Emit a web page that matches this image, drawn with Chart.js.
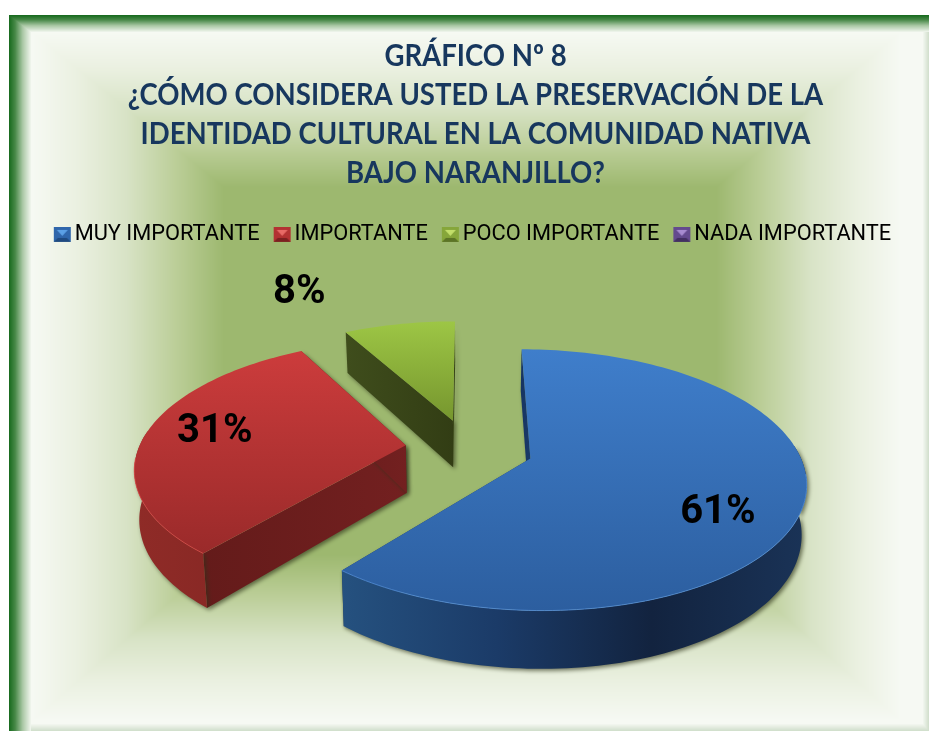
<!DOCTYPE html>
<html><head><meta charset="utf-8">
<style>html,body{margin:0;padding:0;background:#fff}#w{width:929px;height:731px;position:relative}</style>
<script src="https://cdn.jsdelivr.net/npm/chart.js@4"></script>
</head><body><div id="w"><canvas id="c" width="929" height="731"></canvas></div>
<script>
const titleLines = ['GRÁFICO Nº 8','¿CÓMO CONSIDERA USTED LA PRESERVACIÓN DE LA','IDENTIDAD CULTURAL EN LA COMUNIDAD NATIVA','BAJO NARANJILLO?'];
const categories = ['MUY IMPORTANTE','IMPORTANTE','POCO IMPORTANTE','NADA IMPORTANTE'];
const percentValues = [61,31,8,0];

const sliceStyles = [
 {top:['#3f7ecb','#2c5e9f'],rim:['#25517f','#1b3b68','#12233f','#1a3357'],cut:['#173562','#1a3a6a'],edge:'rgba(85,146,220,0.75)',box:['#2f66ab','#5ba0e6','#1f4a80']},
 {top:['#cc3c3c','#9a2a2a'],rim:['#8f2b27','#7a2220'],cut:['#641b1a','#732020'],edge:'rgba(217,74,72,0.75)',box:['#b33232','#e86a66','#7c2020']},
 {top:['#9dc645','#76962e'],rim:['#4a5a20','#3f4d1c'],cut:['#3f4d1c','#323d14'],edge:'rgba(168,204,85,0.75)',box:['#86a63a','#c2de6a','#5c7426']},
 {top:['#7b5ba8','#5f4486'],rim:['#4a3568','#3c2a55'],cut:['#3c2a55','#3c2a55'],edge:'#8d6cba',box:['#644a8e','#a78bd0','#432f62']}
];
const labelFont = 'bold 40px Roboto';
// ground-plane perspective of the pie
const P = {cx:468,cy:448,R:267,S:123.7,k:0.1625,D:48,shrink:0.985};
const explodeBy = [0.245,0.235,0.235,0.235];
const labelDelta = [[0.632,0.40],[-0.735,-0.11],[-0.735,-1.345],null];
const titleSqueeze = 0.918, titleCentre = 475.5;

function proj(u,v,low){
  const w=1-P.k*v;
  let X=P.R*u/w, Y=P.S*v/w;
  if(low){X*=P.shrink;Y+=P.D/w;}
  return [P.cx+X,P.cy+Y];
}
function lerpStops(stops,t){
  for(let i=1;i<stops.length;i++){ if(t<=stops[i][0]){const a=stops[i-1],b=stops[i],f=(t-a[0])/(b[0]-a[0]);
    return [a[1]+(b[1]-a[1])*f,a[2]+(b[2]-a[2])*f,a[3]+(b[3]-a[3])*f];}}
  const l=stops[stops.length-1];return [l[1],l[2],l[3]];
}
let bgCanvas=null;
function paintBackground(){
  const c=document.createElement('canvas');c.width=929;c.height=731;const x=c.getContext('2d');
  const im=x.createImageData(929,731),d=im.data;
  const main=[[0,157,184,111],[0.08,157,184,111],[0.3,186,205,150],[0.55,216,227,198],[0.78,234,240,224],[1,246,249,243]];
  const band=[[0,26,108,32],[0.25,70,135,70],[0.6,170,200,165],[1,246,249,243]];
  for(let py=0;py<731;py++)for(let px=0;px<929;px++){
    const i=(py*929+px)*4;
    if(px<9||py<15){d[i]=d[i+1]=d[i+2]=255;d[i+3]=255;continue;}
    const t=Math.min(1,Math.max(0,(240-px)/208,(200-py)/168,(px-700)/200,(py-540)/180));
    let col=lerpStops(main,t);
    const b=Math.min((px-9)/22,(py-15)/17);
    if(b<1)col=lerpStops(band,Math.max(0,b));
    const pale=Math.min((929-px)/7,(731-py)/8);
    if(pale<1&&b>=1){const f=1-Math.max(0,pale);col=[col[0]+(205-col[0])*f,col[1]+(220-col[1])*f,col[2]+(200-col[2])*f];}
    d[i]=col[0];d[i+1]=col[1];d[i+2]=col[2];d[i+3]=255;
  }
  x.putImageData(im,0,0);return c;
}
function grad(ctx,x0,y0,x1,y1,cols){
  const g=ctx.createLinearGradient(x0,y0,x1,y1);
  cols.forEach((c,i)=>g.addColorStop(cols.length>1?i/(cols.length-1):0,c));return g;
}
function poly(ctx,pts,fill){ctx.beginPath();pts.forEach((p,i)=>i?ctx.lineTo(p[0],p[1]):ctx.moveTo(p[0],p[1]));ctx.closePath();ctx.fillStyle=fill;ctx.fill();}

function drawSlice(ctx,el,st,e){
  const a0=el.startAngle,a1=el.endAngle;
  if(a1-a0<1e-4)return;
  const mid=(a0+a1)/2,u0=e*Math.cos(mid),v0=e*Math.sin(mid);
  const n=Math.max(4,Math.ceil((a1-a0)/0.025));
  const top=[],low=[],vis=[];
  for(let i=0;i<=n;i++){
    const a=a0+(a1-a0)*i/n,u=u0+Math.cos(a),v=v0+Math.sin(a);
    top.push(proj(u,v,false));low.push(proj(u,v,true));
    if(Math.sin(a)>-0.12)vis.push(i);
  }
  const tipT=proj(u0,v0,false),tipL=proj(u0,v0,true);
  const xs=top.concat(low,[tipT,tipL]).map(p=>p[0]),ys=top.concat([tipT]).map(p=>p[1]);
  const minX=Math.min(...xs),maxX=Math.max(...xs),minY=Math.min(...ys),maxY=Math.max(...ys);
  ctx.save();
  ctx.shadowColor='rgba(45,50,25,0.65)';ctx.shadowBlur=4;ctx.shadowOffsetX=2;ctx.shadowOffsetY=2;
  const c1=[tipT,top[0],low[0],tipL],c2=[tipT,top[n],low[n],tipL];
  poly(ctx,c1,grad(ctx,Math.min(tipT[0],top[0][0]),0,Math.max(tipT[0],top[0][0])+1,0,st.cut));
  poly(ctx,c2,grad(ctx,Math.min(tipT[0],top[n][0]),0,Math.max(tipT[0],top[n][0])+1,0,st.cut));
  if(vis.length>1){
    const tv=vis.map(i=>top[i]),lv=vis.map(i=>low[i]).reverse();
    poly(ctx,tv.concat(lv),grad(ctx,minX,0,maxX,0,st.rim));
  }
  ctx.restore();
  poly(ctx,[tipT].concat(top),grad(ctx,0,minY,0,maxY,st.top));
  ctx.save();ctx.beginPath();let on=false;
  for(let i=0;i<=n;i++){const a=a0+(a1-a0)*i/n;if(Math.sin(a)>0.1){on?ctx.lineTo(top[i][0],top[i][1]):ctx.moveTo(top[i][0],top[i][1]);on=true;}else on=false;}
  ctx.strokeStyle=st.edge;ctx.lineWidth=1;ctx.stroke();ctx.restore();
}
const pie3d={id:'pie3d',
  afterLayout(chart){
    chart.legend.left-=2;chart.legend.right-=2;
    const tb=chart.titleBlock;
    if(!tb._squeezed){
      const orig=tb.draw.bind(tb);
      tb.draw=function(){
        const ctx=chart.ctx;ctx.save();
        ctx.translate(titleCentre,0);ctx.scale(titleSqueeze,1);ctx.translate(-titleCentre,0);
        orig();ctx.restore();
      };
      tb._squeezed=true;
    }
  },
  beforeDraw(chart){if(!bgCanvas)bgCanvas=paintBackground();chart.ctx.drawImage(bgCanvas,0,0);},
  beforeDatasetsDraw(chart){
    const ctx=chart.ctx,arcs=chart.getDatasetMeta(0).data;
    [2,1,0,3].forEach(i=>drawSlice(ctx,arcs[i],sliceStyles[i],explodeBy[i]));
    ctx.save();ctx.fillStyle='#000';ctx.font=labelFont;ctx.textAlign='center';ctx.textBaseline='middle';
    arcs.forEach((el,i)=>{
      if(!labelDelta[i])return;
      const mid=(el.startAngle+el.endAngle)/2,u0=explodeBy[i]*Math.cos(mid),v0=explodeBy[i]*Math.sin(mid);
      const p=proj(u0+labelDelta[i][0],v0+labelDelta[i][1],false);
      ctx.fillText(percentValues[i]+'%',p[0],p[1]);
    });
    ctx.restore();
    return false;
  }
};
function legendIcon(st){
  const c=document.createElement('canvas');c.width=32;c.height=16;const x=c.getContext('2d');
  const l=10,t=0,w=17,h=15,b=4;
  x.fillStyle=st.box[0];x.fillRect(l,t,w,h);
  poly(x,[[l+b-1,t+3],[l+w-b+1,t+3],[l+w/2,t+9]],st.box[1]);
  poly(x,[[l,t+h],[l+w,t+h],[l+w-b,t+h-b],[l+b,t+h-b]],st.box[2]);
  return c;
}
new Chart(document.getElementById('c'),{
  type:'pie',
  plugins:[pie3d],
  data:{labels:categories,datasets:[{data:percentValues,backgroundColor:sliceStyles.map(s=>s.top[0]),borderWidth:0}]},
  options:{
    responsive:false,animation:false,events:[],
    layout:{padding:{left:22,top:37}},
    plugins:{
      tooltip:{enabled:false},
      title:{display:true,text:titleLines,color:'#17375e',font:{family:'Lato',size:30,weight:'bold',lineHeight:1.3},padding:{top:0,bottom:15}},
      legend:{display:true,position:'top',
        labels:{color:'#000',font:{family:'Roboto',size:21.8},usePointStyle:true,pointStyleWidth:8,padding:16,
          generateLabels(){return categories.map((t,i)=>({text:t,fontColor:'#000',pointStyle:legendIcon(sliceStyles[i]),hidden:false,index:i,lineWidth:0}));}}
      }
    }
  }
});
</script></body></html>
